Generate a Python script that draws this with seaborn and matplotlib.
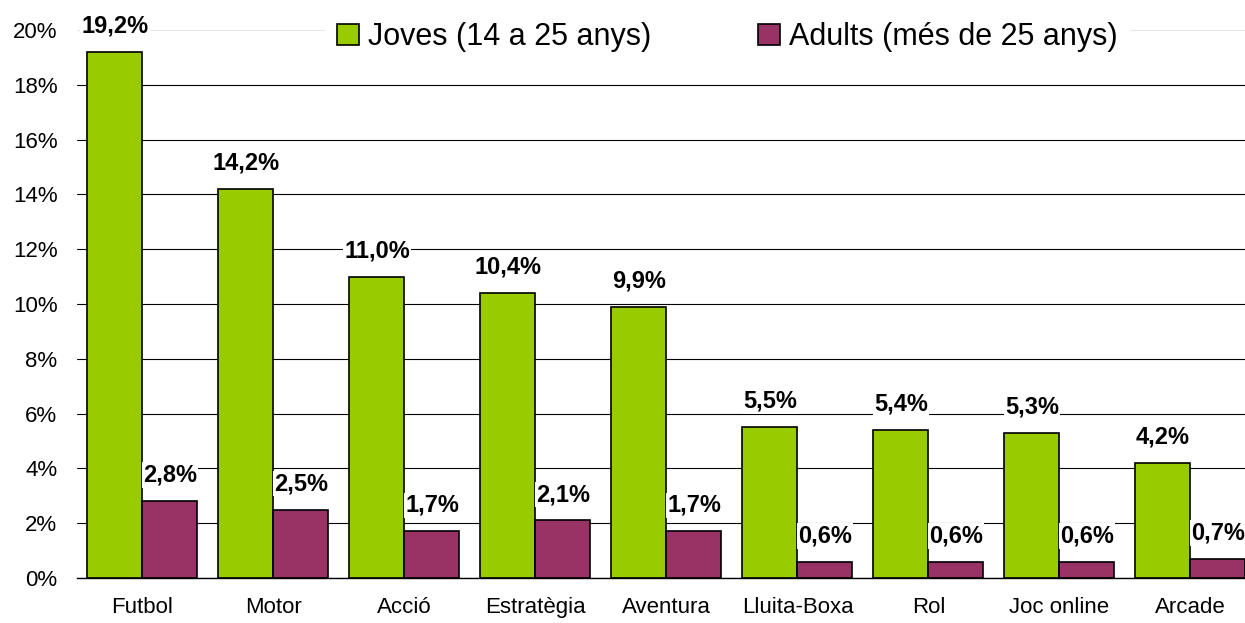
# Import everything --------------------------------------------------------------------
import numpy as np
import pandas as pd
import matplotlib
matplotlib.use('Agg')
import matplotlib.pyplot as plt
from matplotlib.patches import Patch
import seaborn as sns
# END-------------------------------------------------------------------------------------


# DATA ------------------------------------------------------------------------------------
categories = ['Futbol', 'Motor', 'Acció', 'Estratègia', 'Aventura',
              'Lluita-Boxa', 'Rol', 'Joc online', 'Arcade']
joves = [19.2, 14.2, 11.0, 10.4, 9.9, 5.5, 5.4, 5.3, 4.2]
adults = [2.8, 2.5, 1.7, 2.1, 1.7, 0.6, 0.6, 0.6, 0.7]
groups = ['Joves (14 a 25 anys)', 'Adults (més de 25 anys)']
colors = ['#99CC00', '#993366']
y_ticks = [0, 2, 4, 6, 8, 10, 12, 14, 16, 18, 20]

df = pd.DataFrame({
    'cat': categories * 2,
    'val': joves + adults,
    'grp': [groups[0]] * len(categories) + [groups[1]] * len(categories),
})
# END -------------------------------------------------------------------------------------


# STYLE -----------------------------------------------------------------------------------
sns.set_style('white')
plt.rcParams['font.family'] = ['Liberation Sans', 'DejaVu Sans']
plt.rcParams['text.color'] = 'black'
plt.rcParams['xtick.color'] = 'black'
plt.rcParams['ytick.color'] = 'black'
plt.rcParams['xtick.labelcolor'] = 'black'
plt.rcParams['ytick.labelcolor'] = 'black'
# END -------------------------------------------------------------------------------------


# CHART -----------------------------------------------------------------------------------
fig = plt.figure(figsize=(12.45, 6.23), dpi=100)
ax = fig.add_axes([0.0618, 0.0722, 0.9470, 0.8796])

sns.barplot(data=df, x='cat', y='val', hue='grp', order=categories, hue_order=groups,
            palette=colors, width=0.84, saturation=1, edgecolor='black',
            linewidth=1.2, errorbar=None, legend=False, ax=ax)

ax.set_xlim(-0.5, len(categories) - 0.5)
ax.set_ylim(0, 20)
ax.set_yticks(y_ticks)
ax.set_yticklabels([f'{t}%' for t in y_ticks])
ax.set_xlabel('')
ax.set_ylabel('')

# gridlines (top one is faint)
ax.set_axisbelow(True)
ax.yaxis.grid(True, color='black', linewidth=0.8)
ax.get_ygridlines()[-1].set_color('#e6e6e6')

for side in ['left', 'right', 'top']:
    ax.spines[side].set_visible(False)
ax.spines['bottom'].set_color('black')
ax.spines['bottom'].set_linewidth(1.0)

ax.set_xticks(np.arange(-0.5, len(categories), 1), minor=True)
ax.tick_params(axis='x', which='major', length=0, pad=14, labelsize=16, labelcolor='black')
ax.tick_params(axis='x', which='minor', length=5, width=1, color='black')
ax.tick_params(axis='y', length=0, pad=14, labelsize=16, labelcolor='black')

# value labels
for cont in ax.containers:
    for bar in cont:
        h = bar.get_height()
        ax.annotate(f'{h:.1f}%'.replace('.', ','),
                    (bar.get_x() + bar.get_width() / 2, h),
                    xytext=(0, 14), textcoords='offset points',
                    ha='center', va='baseline', fontsize=17, fontweight='bold',
                    color='black',
                    bbox=dict(facecolor='white', edgecolor='none', pad=1),
                    zorder=5)

# legend
handles = [Patch(facecolor=c, edgecolor='black', linewidth=1.2) for c in colors]
leg = ax.legend(handles, groups, ncol=2, loc='center',
                bbox_to_anchor=(0.5843, 0.9406), bbox_transform=fig.transFigure,
                fontsize=22, handlelength=0.7, handleheight=0.7,
                handletextpad=0.3, columnspacing=3.5, frameon=True,
                fancybox=False, framealpha=1, borderpad=0.4)
leg.get_frame().set_edgecolor('none')
leg.get_frame().set_facecolor('white')
for t in leg.get_texts():
    t.set_color('black')

fig.savefig('out.png', dpi=100)
# END -------------------------------------------------------------------------------------
